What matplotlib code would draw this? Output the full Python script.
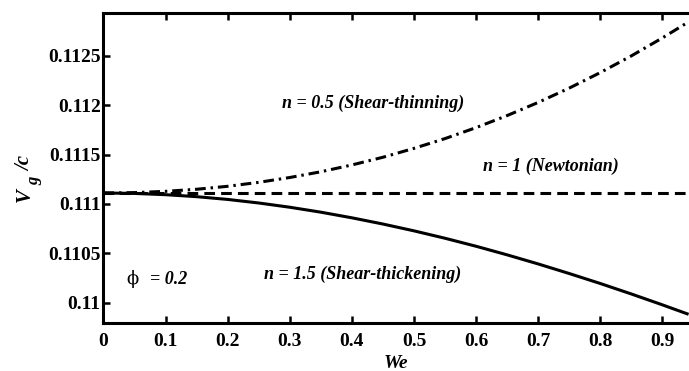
import numpy as np
import matplotlib
matplotlib.use("Agg")
import matplotlib.pyplot as plt

# Data
we = [0.0, 0.05, 0.1, 0.15, 0.2, 0.25, 0.3, 0.35, 0.4, 0.45, 0.5,
      0.55, 0.6, 0.65, 0.7, 0.75, 0.8, 0.85, 0.9, 0.94]
base = 1.0 / 9.0
dev_thin = [0.0, 0.000004, 0.000017, 0.000038, 0.000068, 0.000108, 0.000157, 0.000215,
            0.000284, 0.000362, 0.000452, 0.000551, 0.000662, 0.000784, 0.000917,
            0.001062, 0.001219, 0.001388, 0.00157, 0.001724]
dev_thick = [0.0, -0.000004, -0.000017, -0.000037, -0.000065, -0.000101, -0.000144,
             -0.000194, -0.000251, -0.000314, -0.000383, -0.000458, -0.000539,
             -0.000626, -0.000718, -0.000815, -0.000916, -0.001022, -0.001132, -0.001223]
vg_thin = [base + d for d in dev_thin]
vg_newt = [base for _ in we]
vg_thick = [base + d for d in dev_thick]

xticks = [0, 0.1, 0.2, 0.3, 0.4, 0.5, 0.6, 0.7, 0.8, 0.9]
xticklabels = ["0", "0.1", "0.2", "0.3", "0.4", "0.5", "0.6", "0.7", "0.8", "0.9"]
yticks = [0.11, 0.1105, 0.111, 0.1115, 0.112, 0.1125]
yticklabels = ["0.11", "0.1105", "0.111", "0.1115", "0.112", "0.1125"]

serif = ["Liberation Serif", "DejaVu Serif"]

fig = plt.figure(figsize=(6.89, 3.71), dpi=100)
ax = fig.add_axes([0.1502, 0.1294, 0.8498, 0.8348])

lw = 2.2
ax.plot(we, vg_thin, color="black", lw=lw, linestyle=(0, (3.5, 1.6, 0.8, 1.6)))
ax.plot(we, vg_newt, color="black", lw=lw, linestyle=(0, (3.5, 2.0)))
ax.plot(we, vg_thick, color="black", lw=lw, linestyle="-")

ax.set_xlim(0, 0.943)
ax.set_ylim(0.109795, 0.112931)

ax.set_xticks(xticks)
ax.set_xticklabels(xticklabels)
ax.set_yticks(yticks)
ax.set_yticklabels(yticklabels)

for lab in ax.get_xticklabels() + ax.get_yticklabels():
    lab.set_fontfamily(serif)
    lab.set_fontweight("bold")
    lab.set_fontsize(14)

ax.tick_params(axis="both", direction="in", length=5, width=1.8, top=True, right=False, pad=4)
ax.tick_params(axis="x", pad=7)
ax.tick_params(axis="y", pad=2)
for s in ["left", "bottom", "top"]:
    ax.spines[s].set_linewidth(2.2)
ax.spines["right"].set_visible(False)

ax.set_xlabel("We", fontfamily=serif, fontweight="bold", fontstyle="italic", fontsize=14, labelpad=4)

ylkw = dict(rotation=90, fontfamily=serif, fontweight="bold", fontstyle="italic", ha="center", va="center")
fig.text(0.036, 0.474, "V", fontsize=15, **ylkw)
fig.text(0.050, 0.512, "g", fontsize=12, **ylkw)
fig.text(0.036, 0.560, "/c", fontsize=15, **ylkw)

tkw = dict(fontfamily=serif, fontweight="bold", fontstyle="italic", fontsize=13, ha="center", va="center")
ax.text(0.435, 0.11202, "n = 0.5 (Shear-thinning)", **tkw)
ax.text(0.72, 0.11138, "n = 1 (Newtonian)", **tkw)
ax.text(0.418, 0.11029, "n = 1.5 (Shear-thickening)", **tkw)
ax.text(0.047, 0.11024, "\u03d5", fontfamily=["DejaVu Serif"], fontsize=13, ha="center", va="center")
ax.text(0.105, 0.11024, "= 0.2", **tkw)

fig.savefig("out.png", dpi=100)
